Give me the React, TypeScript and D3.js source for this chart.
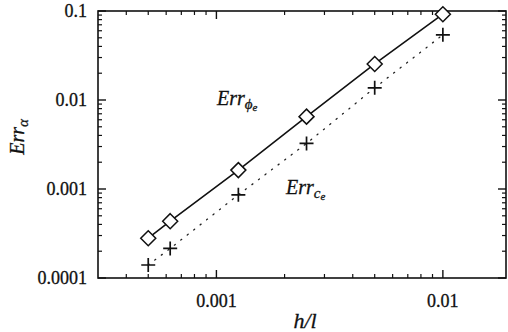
import React from "react";
import * as d3 from "d3";

// Mesh size h/l
const hValues = [0.0005, 0.000625, 0.00125, 0.0025, 0.005, 0.01];
// Error in phi_e (diamonds, solid line)
const errPhi = [2.8e-4, 4.35e-4, 1.63e-3, 6.5e-3, 0.0254, 0.092];
// Error in c_e (crosses, dotted line)
const errC = [1.4e-4, 2.15e-4, 8.6e-4, 3.25e-3, 0.0137, 0.054];

const xTickValues = [0.001, 0.01];
const xTickLabels = ["0.001", "0.01"];
const yTickValues = [0.0001, 0.001, 0.01, 0.1];
const yTickLabels = ["0.0001", "0.001", "0.01", "0.1"];

const W = 508;
const H = 332;
const left = 98;
const right = 506;
const top = 11;
const bottom = 278;

const FONT = "Liberation Serif";

export default function App() {
  const x = d3.scaleLog().domain([0.0003, 0.019]).range([left, right]);
  const y = d3.scaleLog().domain([0.0001, 0.1]).range([bottom, top]);

  // Minor ticks inside each domain
  const xMinor: number[] = [];
  for (let e = -4; e <= -2; e++) {
    for (let m = 2; m <= 9; m++) {
      const v = m * Math.pow(10, e);
      if (v > 0.00031 && v < 0.0189) xMinor.push(v);
    }
  }
  const yMinor: number[] = [];
  for (let e = -4; e <= -2; e++) {
    for (let m = 2; m <= 9; m++) {
      yMinor.push(m * Math.pow(10, e));
    }
  }

  const line = d3
    .line<[number, number]>()
    .x((d) => x(d[0]))
    .y((d) => y(d[1]));

  const phiPts = hValues.map((h, i) => [h, errPhi[i]] as [number, number]);
  const cPts = hValues.map((h, i) => [h, errC[i]] as [number, number]);

  const majorLen = 8;
  const minorLen = 4;
  const ink = "#111";

  return (
    <svg
      width={W}
      height={H}
      style={{ position: "absolute", left: 0, top: 0, background: "#fff" }}
    >
      <rect x={0} y={0} width={W} height={H} fill="#fff" />

      {/* frame */}
      <rect
        x={left}
        y={top}
        width={right - left}
        height={bottom - top}
        fill="none"
        stroke={ink}
        strokeWidth={1.6}
      />

      {/* x ticks, bottom and top */}
      {xTickValues.map((v) => (
        <g key={"xM" + v} stroke={ink} strokeWidth={1.4}>
          <line x1={x(v)} x2={x(v)} y1={bottom} y2={bottom - majorLen} />
          <line x1={x(v)} x2={x(v)} y1={top} y2={top + majorLen} />
        </g>
      ))}
      {xMinor.map((v) => (
        <g key={"xm" + v} stroke={ink} strokeWidth={1.2}>
          <line x1={x(v)} x2={x(v)} y1={bottom} y2={bottom - minorLen} />
          <line x1={x(v)} x2={x(v)} y1={top} y2={top + minorLen} />
        </g>
      ))}

      {/* y ticks, left and right */}
      {yTickValues.map((v) => (
        <g key={"yM" + v} stroke={ink} strokeWidth={1.4}>
          <line x1={left} x2={left + majorLen} y1={y(v)} y2={y(v)} />
          <line x1={right} x2={right - majorLen} y1={y(v)} y2={y(v)} />
        </g>
      ))}
      {yMinor.map((v) => (
        <g key={"ym" + v} stroke={ink} strokeWidth={1.2}>
          <line x1={left} x2={left + minorLen} y1={y(v)} y2={y(v)} />
          <line x1={right} x2={right - minorLen} y1={y(v)} y2={y(v)} />
        </g>
      ))}

      {/* tick labels */}
      <g fill={ink} stroke={ink} strokeWidth={0.3}>
        {xTickValues.map((v, i) => (
          <text key={"xl" + v} x={x(v)} y={307} textAnchor="middle" fontFamily={FONT} fontSize={18}>
            {xTickLabels[i]}
          </text>
        ))}
        {yTickValues.map((v, i) => (
          <text key={"yl" + v} x={87} y={y(v) + 6} textAnchor="end" fontFamily={FONT} fontSize={18}>
            {yTickLabels[i]}
          </text>
        ))}
      </g>

      {/* axis titles and series labels */}
      <g fill={ink} stroke={ink} strokeWidth={0.3} fontFamily={FONT} fontStyle="italic">
        <text x={305} y={328} textAnchor="middle" fontSize={22}>
          h/l
        </text>
        <text transform="translate(24,137) rotate(-90)" textAnchor="middle" fontSize={20}>
          Err
          <tspan fontSize={15} dy={4}>
            α
          </tspan>
        </text>

        <text x={217} y={105} fontSize={20}>
          Err
          <tspan fontSize={15} dy={4}>
            ϕ
          </tspan>
          <tspan fontSize={11} dy={2}>
            e
          </tspan>
        </text>
        <text x={286} y={194} fontSize={20}>
          Err
          <tspan fontSize={15} dy={4}>
            c
          </tspan>
          <tspan fontSize={11} dy={2}>
            e
          </tspan>
        </text>
      </g>

      {/* c_e: dotted line */}
      <path
        d={line(cPts) || ""}
        fill="none"
        stroke="#222"
        strokeWidth={1.3}
        strokeDasharray="1.2 7"
        strokeLinecap="round"
      />

      {/* phi_e: solid line */}
      <path d={line(phiPts) || ""} fill="none" stroke={ink} strokeWidth={1.6} />

      {/* diamonds */}
      {phiPts.map((d, i) => {
        const cx = x(d[0]);
        const cy = y(d[1]);
        const r = 7.5;
        return (
          <path
            key={"d" + i}
            d={`M${cx},${cy - r}L${cx + r},${cy}L${cx},${cy + r}L${cx - r},${cy}Z`}
            fill="#fff"
            stroke={ink}
            strokeWidth={1.5}
          />
        );
      })}

      {/* crosses */}
      {cPts.map((d, i) => {
        const cx = x(d[0]);
        const cy = y(d[1]);
        const r = 7;
        return (
          <path
            key={"p" + i}
            d={`M${cx - r},${cy}L${cx + r},${cy}M${cx},${cy - r}L${cx},${cy + r}`}
            stroke={ink}
            strokeWidth={1.7}
          />
        );
      })}
    </svg>
  );
}
